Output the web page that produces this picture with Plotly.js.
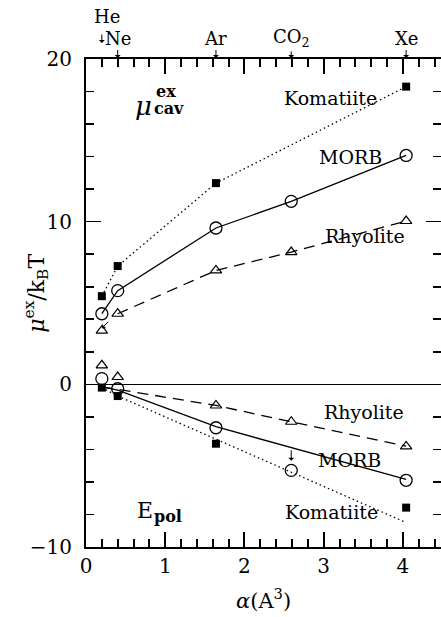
<!DOCTYPE html>
<html>
<head>
<meta charset="utf-8">
<script src="https://cdn.plot.ly/plotly-3.0.1.min.js"></script>
<style>
  html, body { margin: 0; padding: 0; background: #fff; }
  #chart { width: 441px; height: 617px; }
</style>
</head>
<body>
<div id="chart"></div>
<script>
// Polarizability of each gas (A^3) and its name along the top axis
const gases = ["He", "Ne", "Ar", "CO2", "Xe"];
const alpha = [0.2, 0.4, 1.64, 2.59, 4.04];

// Cavity term (upper panel), mu_ex / kBT
const komCav = [5.42, 7.27, 12.37, null, 18.3];
const morbCav = [4.34, 5.76, 9.61, 11.25, 14.07];
const rhyCav = [3.3, 4.34, 7.0, 8.13, 10.04];

// Polarization term (lower panel)
const komPol = [-0.2, -0.72, -3.65, null, -7.58];
const morbPol = [0.35, -0.27, -2.67, -5.29, -5.9];
const rhyPol = [1.17, 0.45, -1.3, -2.3, -3.82];

// Guide lines through the polarization points
const komPolLineX = [0.2, 0.4, 4.04];
const komPolLineY = [-0.2, -0.72, -8.5];
const morbPolLineX = [0.2, 0.4, 1.64, 4.04];
const morbPolLineY = [-0.15, -0.35, -2.6, -5.85];
const rhyPolLineX = [0.2, 1.64, 2.59, 4.04];
const rhyPolLineY = [-0.15, -1.3, -2.3, -3.8];

// Upper rhyolite curve starts at Ne
const rhyCavLineX = alpha.slice(1);
const rhyCavLineY = rhyCav.slice(1);

// Minor tick positions
const xMinorTicks = [0.2, 0.4, 0.6, 0.8, 1.2, 1.4, 1.6, 1.8, 2.2, 2.4, 2.6, 2.8,
                     3.2, 3.4, 3.6, 3.8, 4.2, 4.4];
const yMinorTicks = [-8, -6, -4, -2, 2, 4, 6, 8, 12, 14, 16, 18];

const X_RANGE = [0, 4.48];
const FONT = "DejaVu Serif";
const BLACK = "#000";

function pick(xs, ys) {
  const x = [], y = [];
  xs.forEach((v, i) => { if (ys[i] !== null) { x.push(v); y.push(ys[i]); } });
  return { x, y };
}

const dotLine = { color: BLACK, width: 1.3, dash: "1.5px,3px" };
const solidLine = { color: BLACK, width: 1.3 };
const dashLine = { color: BLACK, width: 1.3, dash: "11px,7px" };

const sq = { symbol: "square", size: 8, color: BLACK };
const circ = { symbol: "circle-open", size: 12, color: BLACK, line: { color: BLACK, width: 1.3 } };
const tri = { symbol: "triangle-up-open", size: 10, color: BLACK, line: { color: BLACK, width: 1.2 } };

const kc = pick(alpha, komCav);
const kp = pick(alpha, komPol);

const traces = [
  // cavity curves
  { x: kc.x, y: kc.y, mode: "lines+markers", line: dotLine, marker: sq },
  { x: alpha, y: morbCav, mode: "lines", line: solidLine },
  { x: alpha, y: morbCav, mode: "markers", marker: circ },
  { x: rhyCavLineX, y: rhyCavLineY, mode: "lines", line: dashLine },
  { x: alpha, y: rhyCav, mode: "markers", marker: tri },
  // polarization curves
  { x: komPolLineX, y: komPolLineY, mode: "lines", line: dotLine },
  { x: kp.x, y: kp.y, mode: "markers", marker: sq },
  { x: morbPolLineX, y: morbPolLineY, mode: "lines", line: solidLine },
  { x: alpha, y: morbPol, mode: "markers", marker: circ },
  { x: rhyPolLineX, y: rhyPolLineY, mode: "lines", line: dashLine },
  { x: alpha, y: rhyPol, mode: "markers", marker: tri }
].map(t => Object.assign({ type: "scatter", showlegend: false, hoverinfo: "skip", cliponaxis: false }, t));

function txt(x, y, text, size, extra) {
  return Object.assign({
    x, y, xref: "x", yref: "y", text, showarrow: false,
    font: { family: FONT, size: size || 19, color: BLACK }
  }, extra || {});
}

// top-axis gas markers
const gasLabels = ["He", "Ne", "Ar", "CO<sub>2</sub>", "Xe"];
const topAnn = [];
alpha.forEach((a, i) => {
  if (i === 0) return;
  topAnn.push({
    x: a, y: 1, xref: "x", yref: "paper", text: gasLabels[i],
    showarrow: true, ax: 0, ay: -21, arrowhead: 1, arrowsize: 1, arrowwidth: 1,
    arrowcolor: BLACK, standoff: 1,
    font: { family: FONT, size: 18, color: BLACK }
  });
});
// He label sits above Ne, with its own short arrow
topAnn.push({
  x: alpha[0], y: 1 + 16 / 488, xref: "x", yref: "paper", text: "",
  showarrow: true, ax: 0, ay: -10, arrowhead: 1, arrowsize: 1, arrowwidth: 1, arrowcolor: BLACK
});
topAnn.push({
  x: alpha[0] + 0.06, y: 1 + 30 / 488, xref: "x", yref: "paper", text: gasLabels[0],
  yanchor: "bottom", showarrow: false, font: { family: FONT, size: 18, color: BLACK }
});

const annotations = topAnn.concat([
  txt(3.09, 17.6, "Komatiite"),
  txt(3.34, 14.0, "MORB"),
  txt(3.52, 9.1, "Rhyolite"),
  txt(3.51, -1.7, "Rhyolite"),
  txt(3.33, -4.63, "MORB"),
  txt(3.1, -7.85, "Komatiite"),
  // mu_cav^ex label
  txt(0.72, 17.1, "<i>μ</i>", 26),
  txt(1.01, 18.0, "<b>ex</b>", 16),
  txt(1.05, 16.95, "<b>cav</b>", 16),
  // E_pol label
  txt(0.75, -7.75, "E", 22),
  txt(1.03, -8.15, "<b>pol</b>", 16),
  // pointer to the displaced He triangle
  { x: 0.2, y: 3.45, xref: "x", yref: "y", text: "", showarrow: true,
    ax: 8, ay: -8, arrowhead: 1, arrowsize: 1, arrowwidth: 1, arrowcolor: BLACK },
  // pointer from the MORB line down to the CO2 point
  { x: 2.59, y: -4.7, xref: "x", yref: "y", text: "", showarrow: true,
    ax: 0, ay: -12, arrowhead: 1, arrowsize: 1, arrowwidth: 1, arrowcolor: BLACK },
  // axis titles
  { x: 0.5, y: -0.14, xref: "paper", yref: "paper", text: "<i>α</i>(A<sup>3</sup>)",
    showarrow: false, font: { family: FONT, size: 21, color: BLACK } },
  { x: -0.19, y: 0.52, xref: "paper", yref: "paper",
    text: "<i>μ</i><sup>ex</sup>/k<sub>B</sub>T", textangle: -90,
    showarrow: false, font: { family: FONT, size: 22, color: BLACK } }
]);

const TICK_W = 2;

const layout = {
  width: 441, height: 617,
  margin: { l: 86, r: 0, t: 59, b: 70 },
  paper_bgcolor: "#fff", plot_bgcolor: "#fff",
  xaxis: {
    range: X_RANGE, tickmode: "array", tickvals: [0, 1, 2, 3, 4], zeroline: false,
    showgrid: false, showline: true, linecolor: BLACK, linewidth: 2, mirror: "allticks",
    ticks: "inside", tickcolor: BLACK, tickwidth: TICK_W, ticklen: 15,
    tickfont: { family: FONT, size: 20, color: BLACK },
    minor: { tickmode: "array", tickvals: xMinorTicks, ticks: "inside", ticklen: 8,
             tickcolor: BLACK, tickwidth: TICK_W, showgrid: false }
  },
  yaxis: {
    range: [-10, 20], tickmode: "array",
    showgrid: false, showline: true, linecolor: BLACK, linewidth: 2, mirror: "allticks",
    ticks: "inside", tickcolor: BLACK, tickwidth: 1.6, ticklen: 15,
    tickfont: { family: FONT, size: 20, color: BLACK }, ticklabelstandoff: 8,
    zeroline: true, zerolinecolor: BLACK, zerolinewidth: 1.3,
    tickvals: [-10, 0, 10, 20], ticktext: ["\u221210", "0", "10", "20"],
    minor: { tickmode: "array", tickvals: yMinorTicks, ticks: "inside", ticklen: 8,
             tickcolor: BLACK, tickwidth: 1.6, showgrid: false }
  },
  annotations
};

Plotly.newPlot("chart", traces, layout, { staticPlot: true, displayModeBar: false });
</script>
</body>
</html>
